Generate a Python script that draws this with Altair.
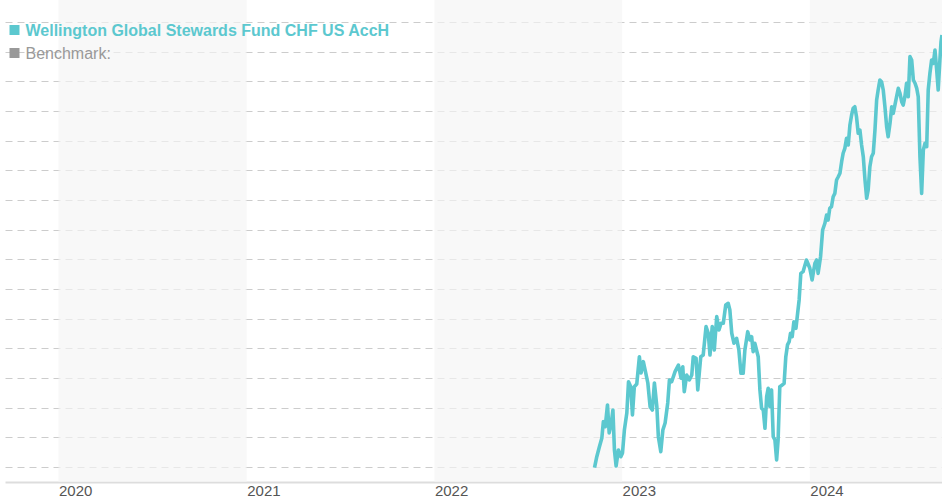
import altair as alt
import pandas as pd

# ---- data ----
fund_name = "Wellington Global Stewards Fund CHF US AccH"
bench_name = "Benchmark:"

# decimal-year positions of the fund observations
dec_years = [
    2022.853, 2022.865, 2022.879, 2022.892, 2022.900, 2022.910, 2022.922, 2022.931, 2022.941, 2022.951,
    2022.959, 2022.968, 2022.980, 2022.993, 2023.002, 2023.012, 2023.025, 2023.034, 2023.046, 2023.055,
    2023.065, 2023.078, 2023.092, 2023.101, 2023.113, 2023.126, 2023.137, 2023.149, 2023.161, 2023.172,
    2023.185, 2023.193, 2023.206, 2023.217, 2023.229, 2023.243, 2023.252, 2023.264, 2023.282, 2023.300,
    2023.314, 2023.323, 2023.331, 2023.344, 2023.358, 2023.371, 2023.379, 2023.394, 2023.403, 2023.419,
    2023.432, 2023.447, 2023.459, 2023.468, 2023.480, 2023.491, 2023.504, 2023.516, 2023.527, 2023.539,
    2023.552, 2023.565, 2023.574, 2023.584, 2023.596, 2023.610, 2023.622, 2023.633, 2023.645, 2023.654,
    2023.669, 2023.681, 2023.690, 2023.698, 2023.707, 2023.716, 2023.725, 2023.734, 2023.743, 2023.752,
    2023.761, 2023.770, 2023.778, 2023.787, 2023.796, 2023.805, 2023.814, 2023.823, 2023.831, 2023.840,
    2023.853, 2023.863, 2023.872, 2023.881, 2023.890, 2023.897, 2023.906, 2023.915, 2023.926, 2023.935,
    2023.943, 2023.952, 2023.964, 2023.982, 2024.000, 2024.012, 2024.027, 2024.036, 2024.044, 2024.057,
    2024.068, 2024.080, 2024.089, 2024.097, 2024.106, 2024.115, 2024.124, 2024.133, 2024.142, 2024.151,
    2024.160, 2024.169, 2024.177, 2024.186, 2024.195, 2024.204, 2024.213, 2024.222, 2024.230, 2024.239,
    2024.248, 2024.257, 2024.266, 2024.275, 2024.284, 2024.293, 2024.302, 2024.310, 2024.319, 2024.328,
    2024.337, 2024.346, 2024.355, 2024.363, 2024.372, 2024.381, 2024.390, 2024.399, 2024.408, 2024.416,
    2024.426, 2024.435, 2024.443, 2024.452, 2024.461, 2024.470, 2024.479, 2024.488, 2024.496, 2024.505,
    2024.514, 2024.523, 2024.532, 2024.541, 2024.550, 2024.559, 2024.568, 2024.576, 2024.585, 2024.594,
    2024.603, 2024.612, 2024.621, 2024.629, 2024.638, 2024.647, 2024.656, 2024.665, 2024.674, 2024.682,
    2024.691, 2024.697, 2024.702,
]

# fund performance (indexed, start = 100)
fund_values = [
    99.93, 101.04, 102.05, 102.93, 104.58, 104.07, 106.27, 103.44, 104.25, 105.76,
    101.72, 100.10, 101.72, 101.04, 101.42, 103.74, 105.46, 108.62, 108.12, 105.26,
    108.12, 108.39, 111.15, 109.50, 110.65, 109.50, 108.49, 106.10, 105.76, 108.49,
    106.10, 103.06, 101.55, 103.74, 104.45, 106.47, 108.80, 108.62, 109.64, 110.31,
    108.97, 110.14, 107.61, 109.30, 108.80, 109.30, 111.15, 110.99, 107.79, 111.15,
    111.32, 114.19, 113.52, 111.32, 114.19, 111.83, 115.20, 113.85, 114.53, 114.53,
    116.38, 116.55, 115.87, 113.52, 112.51, 113.01, 111.83, 109.47, 109.47, 111.83,
    113.68, 112.84, 113.17, 111.66, 112.51, 111.83, 111.15, 107.79, 105.94, 105.76,
    103.91, 107.11, 107.96, 106.10, 107.79, 103.06, 102.73, 100.71, 102.73, 108.12,
    108.29, 108.46, 111.15, 112.34, 112.67, 113.52, 113.17, 114.69, 114.02, 115.54,
    116.89, 119.58, 119.75, 120.93, 120.09, 118.91, 120.60, 120.93, 119.58, 121.26,
    123.96, 124.64, 125.48, 124.97, 126.16, 126.32, 127.33, 127.67, 129.02, 129.35,
    129.70, 130.87, 131.72, 132.22, 133.23, 132.56, 134.58, 135.59, 136.27, 136.43,
    135.42, 133.74, 134.07, 132.56, 131.37, 129.02, 127.17, 128.01, 130.36, 131.37,
    131.72, 134.07, 137.11, 138.12, 139.13, 138.96, 138.12, 136.43, 134.41, 133.40,
    134.75, 136.43, 135.76, 136.60, 137.44, 138.29, 137.78, 136.94, 136.60, 137.44,
    138.80, 137.44, 141.49, 141.15, 139.13, 138.80, 138.29, 137.44, 131.37, 127.67,
    132.05, 132.73, 132.39, 138.12, 139.81, 141.15, 140.82, 142.16, 140.14, 138.12,
    141.15, 143.00, 143.68,
]

year_ticks = [2020, 2021, 2022, 2023, 2024]
shaded_years = [2020, 2022, 2024]
grid_values = [100, 103, 106, 109, 112, 115, 118, 121, 124, 127, 130, 133, 136, 139, 142, 145]

# ---- styling ----
TEAL = "#5cc8cf"
GRAY = "#999999"
FONT = "Liberation Sans"
W, H = 937, 482


def to_date(t):
    y = int(t)
    start = pd.Timestamp(y, 1, 1)
    end = pd.Timestamp(y + 1, 1, 1)
    return start + (t - y) * (end - start)


line_df = pd.DataFrame({
    "date": [to_date(t).strftime("%Y-%m-%dT%H:%M:%S") for t in dec_years],
    "value": fund_values,
})

band_df = pd.DataFrame({
    "start": [f"{y}-01-01T00:00:00" for y in shaded_years],
    "end": [f"{y + 1}-01-01T00:00:00" for y in shaded_years],
})

x_scale = alt.Scale(
    domain=[alt.DateTime(year=2019, month=9, date=19), alt.DateTime(year=2024, month=9, date=14)],
    nice=False,
)
y_scale = alt.Scale(domain=[98.48, 147.22], nice=False, zero=False)

x_axis = alt.Axis(
    values=[alt.DateTime(year=y, month=1, date=1) for y in year_ticks],
    format="%Y",
    title=None,
    grid=False,
    ticks=False,
    labelAlign="left",
    labelBaseline="top",
    labelPadding=1,
    labelFont=FONT,
    labelFontSize=15,
    labelColor="#555555",
    labelOverlap=False,
    labelFlush=False,
    domainColor="#dddddd",
    domainWidth=2,
)
y_axis = alt.Axis(
    values=grid_values,
    title=None,
    labels=False,
    ticks=False,
    domain=False,
    grid=True,
    gridColor="#cccccc",
    gridDash=[7, 5],
    gridWidth=1,
)

bands = alt.Chart(band_df).mark_rect(color="#f4f4f4", opacity=0.66, clip=True).encode(
    x=alt.X("start:T", scale=x_scale, axis=x_axis),
    x2="end:T",
    y=alt.value(0),
    y2=alt.value(H),
)

line = alt.Chart(line_df).mark_line(color=TEAL, strokeWidth=3.6, clip=True, strokeJoin="round").encode(
    x=alt.X("date:T", scale=x_scale, axis=x_axis),
    y=alt.Y("value:Q", scale=y_scale, axis=y_axis),
)

legend_src = pd.DataFrame({"fund": [fund_name], "bench": [bench_name]})

sq1 = alt.Chart(legend_src).mark_square(size=100, color=TEAL, opacity=1).encode(
    x=alt.value(9.5), y=alt.value(30)
)
t1 = alt.Chart(legend_src).mark_text(
    align="left", baseline="alphabetic", font=FONT, fontSize=16, fontWeight="bold", color=TEAL
).encode(x=alt.value(20.5), y=alt.value(36), text="fund:N")

sq2 = alt.Chart(legend_src).mark_square(size=100, color=GRAY, opacity=1).encode(
    x=alt.value(9.5), y=alt.value(53)
)
t2 = alt.Chart(legend_src).mark_text(
    align="left", baseline="alphabetic", font=FONT, fontSize=16, color=GRAY
).encode(x=alt.value(20.5), y=alt.value(58.5), text="bench:N")

chart = (
    alt.layer(bands, line, sq1, t1, sq2, t2)
    .properties(
        width=W,
        height=H,
        padding={"left": 5, "top": 0, "right": 0, "bottom": 18},
        autosize=alt.AutoSizeParams(type="none"),
        background="white",
    )
    .configure_view(stroke=None)
)

chart.save("out.html", embed_options={"renderer": "svg", "actions": False})
